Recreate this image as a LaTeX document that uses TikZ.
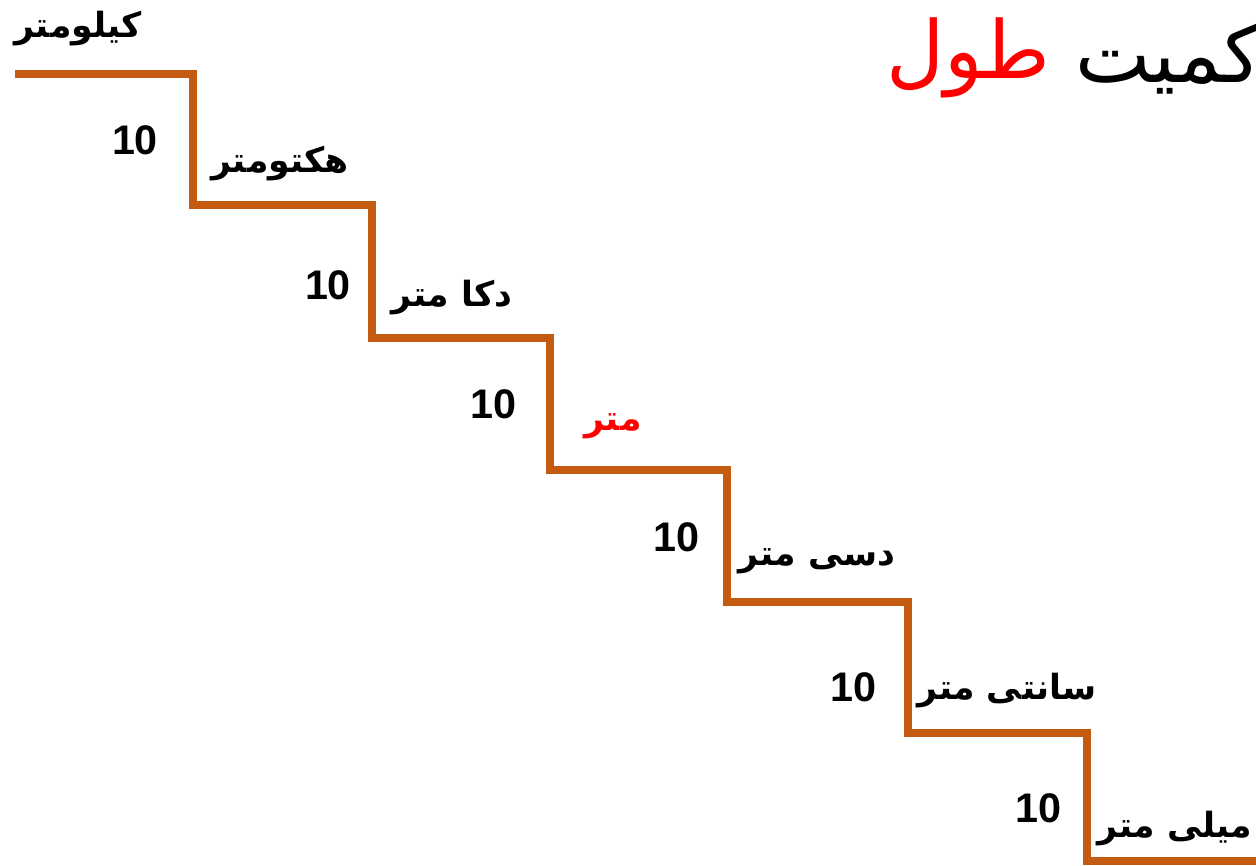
\documentclass[tikz,border=0pt]{standalone}
\usepackage{fontspec}
\setmainfont{Liberation Sans}
\newfontfamily\arabicfont[Script=Arabic]{DejaVu Sans}
\TeXXeTstate=1
\definecolor{stair}{HTML}{C55A11}
\begin{document}
\begin{tikzpicture}[x=0.75pt,y=-0.75pt,
  num/.style={font=\bfseries\fontsize{31}{36}\selectfont, inner sep=0pt},
  lab/.style={font=\arabicfont\bfseries\fontsize{26}{32}\selectfont, inner sep=0pt},
  ttl/.style={font=\arabicfont\fontsize{60}{68}\selectfont, inner sep=0pt},
  stairline/.style={draw=stair, line width=5.4pt}]
\useasboundingbox (0,0) rectangle (1256,866);
\clip (0,0) rectangle (1256,866);
% staircase corners
\coordinate (s0) at (15,74);
\coordinate (s1) at (193,205);
\coordinate (s2) at (372,338);
\coordinate (s3) at (550,470);
\coordinate (s4) at (727,602);
\coordinate (s5) at (908,733);
\coordinate (s6) at (1087,861);
\coordinate (s7) at (1262,861);
\draw[stairline] (s0) -| (s1) -| (s2) -| (s3) -| (s4) -| (s5) -| (s6) -- (s7);
% title
\node[ttl, anchor=west] (t1) at (1075,58) {\beginR کمیت\endR};
\node[ttl, anchor=east, text=red] (t2) at (1050,58) {\beginR طول\endR};
% unit labels
\node[lab] (km) at (78,29) {\beginR کیلومتر\endR};
\node[lab] (hm) at (280,164) {\beginR هکتومتر\endR};
\node[lab] (dam) at (452,298) {\beginR دکا متر\endR};
\node[lab, text=red] (m) at (613,426) {\beginR متر\endR};
\node[lab] (dm) at (817,561) {\beginR دسی متر\endR};
\node[lab] (cm) at (1007,691) {\beginR سانتی متر\endR};
\node[lab] (mm) at (1175,829) {\beginR میلی متر\endR};
% factors
\node[num] (f1) at (135,140) {10};
\node[num] (f2) at (328,285) {10};
\node[num] (f3) at (493,404) {10};
\node[num] (f4) at (676,537) {10};
\node[num] (f5) at (853,687) {10};
\node[num] (f6) at (1038,808) {10};
\end{tikzpicture}
\end{document}
